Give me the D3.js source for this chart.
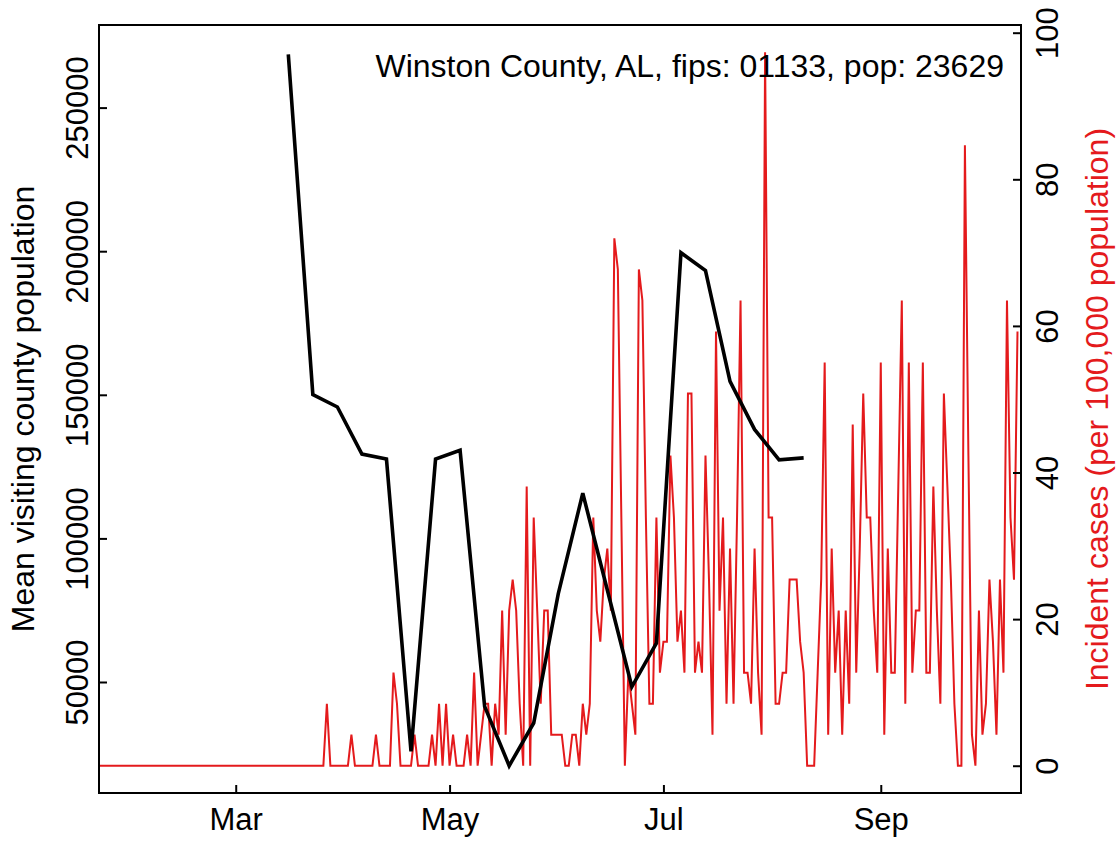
<!DOCTYPE html>
<html>
<head>
<meta charset="utf-8">
<script src="https://cdn.jsdelivr.net/npm/d3@7"></script>
<style>
  html, body { margin: 0; padding: 0; background: #fff; }
  svg { display: block; }
  text { font-family: "Liberation Sans", Arial, Helvetica, sans-serif; }
</style>
</head>
<body>
<svg id="chart" width="1119" height="842"></svg>
<script>
// ---------- data ----------
const titleText = "Winston County, AL, fips: 01133, pop: 23629";
const leftAxisLabel = "Mean visiting county population";
const rightAxisLabel = "Incident cases (per 100,000 population)";

// weekly mean visiting county population (black line)
const visitDates = ["2020-03-16","2020-03-23","2020-03-30","2020-04-06","2020-04-13","2020-04-20",
  "2020-04-27","2020-05-04","2020-05-11","2020-05-18","2020-05-25","2020-06-01","2020-06-08",
  "2020-06-15","2020-06-22","2020-06-29","2020-07-06","2020-07-13","2020-07-20","2020-07-27",
  "2020-08-03","2020-08-10"];
const visitPop = [268500, 150100, 145750, 129350, 127650, 25840,
  127650, 130680, 41500, 20820, 35725, 80710, 115740,
  82030, 48330, 63510, 199480, 193280, 154700, 137950,
  127370, 128030];

// daily incident cases per 100,000 (red line), one value per day from incidenceStart
const incidenceStart = "2020-01-22";
const incidence = [
  0,0,0,0,0,0,0,0,0,0,
  0,0,0,0,0,0,0,0,0,0,
  0,0,0,0,0,0,0,0,0,0,
  0,0,0,0,0,0,0,0,0,0,
  0,0,0,0,0,0,0,0,0,0,
  0,0,0,0,0,0,0,0,0,0,
  0,0,0,0,0,8.46,0,0,0,0,
  0,0,4.23,0,0,0,0,0,0,4.23,
  0,0,0,0,12.7,8.46,0,0,0,0,
  4.23,0,0,0,0,4.23,0,8.46,0,8.46,
  0,4.23,0,0,0,4.23,0,12.7,0,4.23,
  8.46,8.46,0,8.46,4.23,21.16,4.23,21.16,25.39,21.16,
  8.46,0,38.09,0,33.86,21.16,8.46,21.16,21.16,4.23,
  4.23,4.23,4.23,0,0,4.23,4.23,0,8.46,4.23,
  8.46,33.86,21.16,16.93,25.39,29.62,21.16,71.95,67.71,33.86,
  0,12.7,8.46,4.23,67.71,63.48,33.86,8.46,8.46,33.86,
  12.7,16.93,16.93,42.32,33.86,16.93,21.16,12.7,50.79,50.79,
  12.7,16.93,12.7,42.32,25.39,4.23,59.25,21.16,33.86,8.46,
  29.62,8.46,33.86,63.48,12.7,12.7,8.46,29.62,12.7,4.23,
  97.34,33.86,33.86,8.46,8.46,12.7,12.7,25.39,25.39,25.39,
  16.93,12.7,0,0,0,12.7,25.39,55.02,4.23,29.62,
  12.7,21.16,4.23,21.16,8.46,46.55,12.7,29.62,50.79,33.86,
  33.86,21.16,12.7,55.02,4.23,29.62,12.7,12.7,38.09,63.48,
  8.46,55.02,12.7,21.16,21.16,55.02,12.7,12.7,38.09,21.16,
  8.46,50.79,38.09,25.39,8.46,0,0,84.64,42.32,4.23,
  0,21.16,4.23,8.46,25.39,16.93,4.23,25.39,12.7,63.48,
  33.86,25.39,59.25
];

// axis ticks
const xTickDates = ["2020-03-01","2020-05-01","2020-07-01","2020-09-01"];
const leftTicks = [50000, 100000, 150000, 200000, 250000];
const rightTicks = [0, 20, 40, 60, 80, 100];

// ---------- layout ----------
const plot = { left: 99, right: 1021, top: 25, bottom: 793 };
const parse = d3.utcParse("%Y-%m-%d");
const svg = d3.select("#chart");
svg.append("rect").attr("width", 1119).attr("height", 842).attr("fill", "#fff");

const x = d3.scaleUtc()
  .domain([parse("2020-01-22"), parse("2020-10-11")])
  .range([plot.left, plot.right]);
const yLeft = d3.scaleLinear().domain([11351, 278760]).range([plot.bottom, plot.top]);
const yRight = d3.scaleLinear().domain([-3.72, 101.05]).range([plot.bottom, plot.top]);

svg.append("clipPath").attr("id", "clip")
  .append("rect").attr("x", plot.left).attr("y", plot.top)
  .attr("width", plot.right - plot.left).attr("height", plot.bottom - plot.top);

// red incidence line
const start = parse(incidenceStart);
const redData = incidence.map((v, i) => ({ d: d3.utcDay.offset(start, i), v }));
svg.append("path")
  .datum(redData)
  .attr("clip-path", "url(#clip)")
  .attr("fill", "none")
  .attr("stroke", "#e41a1c")
  .attr("stroke-width", 2)
  .attr("stroke-linejoin", "miter")
  .attr("d", d3.line().x(d => x(d.d)).y(d => yRight(d.v)));

// black visiting-population line
const blackData = visitDates.map((s, i) => ({ d: parse(s), v: visitPop[i] }));
svg.append("path")
  .datum(blackData)
  .attr("fill", "none")
  .attr("stroke", "#000")
  .attr("stroke-width", 3.6)
  .attr("stroke-linejoin", "miter")
  .attr("d", d3.line().x(d => x(d.d)).y(d => yLeft(d.v)));

// axes (ticks inward)
const tickFont = 31;
const titleFont = 32;
const gL = svg.append("g").attr("transform", `translate(${plot.left},0)`)
  .call(d3.axisLeft(yLeft).tickValues(leftTicks).tickSize(-8).tickFormat(d3.format("d")));
gL.selectAll("text")
  .attr("x", null).attr("dy", null).attr("y", null)
  .attr("transform", "translate(-11,0) rotate(-90)")
  .attr("text-anchor", "middle");

const gR = svg.append("g").attr("transform", `translate(${plot.right},0)`)
  .call(d3.axisRight(yRight).tickValues(rightTicks).tickSize(-8).tickFormat(d3.format("d")));
gR.selectAll("text")
  .attr("x", null).attr("dy", null).attr("y", null)
  .attr("transform", "translate(37,0) rotate(-90)")
  .attr("text-anchor", "middle");

const gB = svg.append("g").attr("transform", `translate(0,${plot.bottom})`)
  .call(d3.axisBottom(x).tickValues(xTickDates.map(parse)).tickSize(-8).tickFormat(d3.utcFormat("%b")));
gB.selectAll("text").attr("y", 37).attr("dy", null);

[gL, gR, gB].forEach(g => {
  g.select(".domain").remove();
  g.selectAll("line").attr("stroke", "#000").attr("stroke-width", 2);
  g.selectAll("text").attr("fill", "#000")
    .style("font-size", tickFont + "px")
    .style("font-family", '"Liberation Sans", Arial, sans-serif');
});

// box
svg.append("rect")
  .attr("x", plot.left).attr("y", plot.top)
  .attr("width", plot.right - plot.left).attr("height", plot.bottom - plot.top)
  .attr("fill", "none").attr("stroke", "#000").attr("stroke-width", 2);

// axis titles
const midY = (plot.top + plot.bottom) / 2;
svg.append("text")
  .attr("transform", `translate(34,${midY}) rotate(-90)`)
  .attr("text-anchor", "middle")
  .style("font-size", titleFont + "px")
  .attr("fill", "#000")
  .text(leftAxisLabel);
svg.append("text")
  .attr("transform", `translate(1108,${midY}) rotate(-90)`)
  .attr("text-anchor", "middle")
  .style("font-size", titleFont + "px")
  .attr("fill", "#e41a1c")
  .text(rightAxisLabel);

// title
svg.append("text")
  .attr("x", 1004).attr("y", 77)
  .attr("text-anchor", "end")
  .style("font-size", titleFont + "px")
  .attr("fill", "#000")
  .text(titleText);
</script>
</body>
</html>
